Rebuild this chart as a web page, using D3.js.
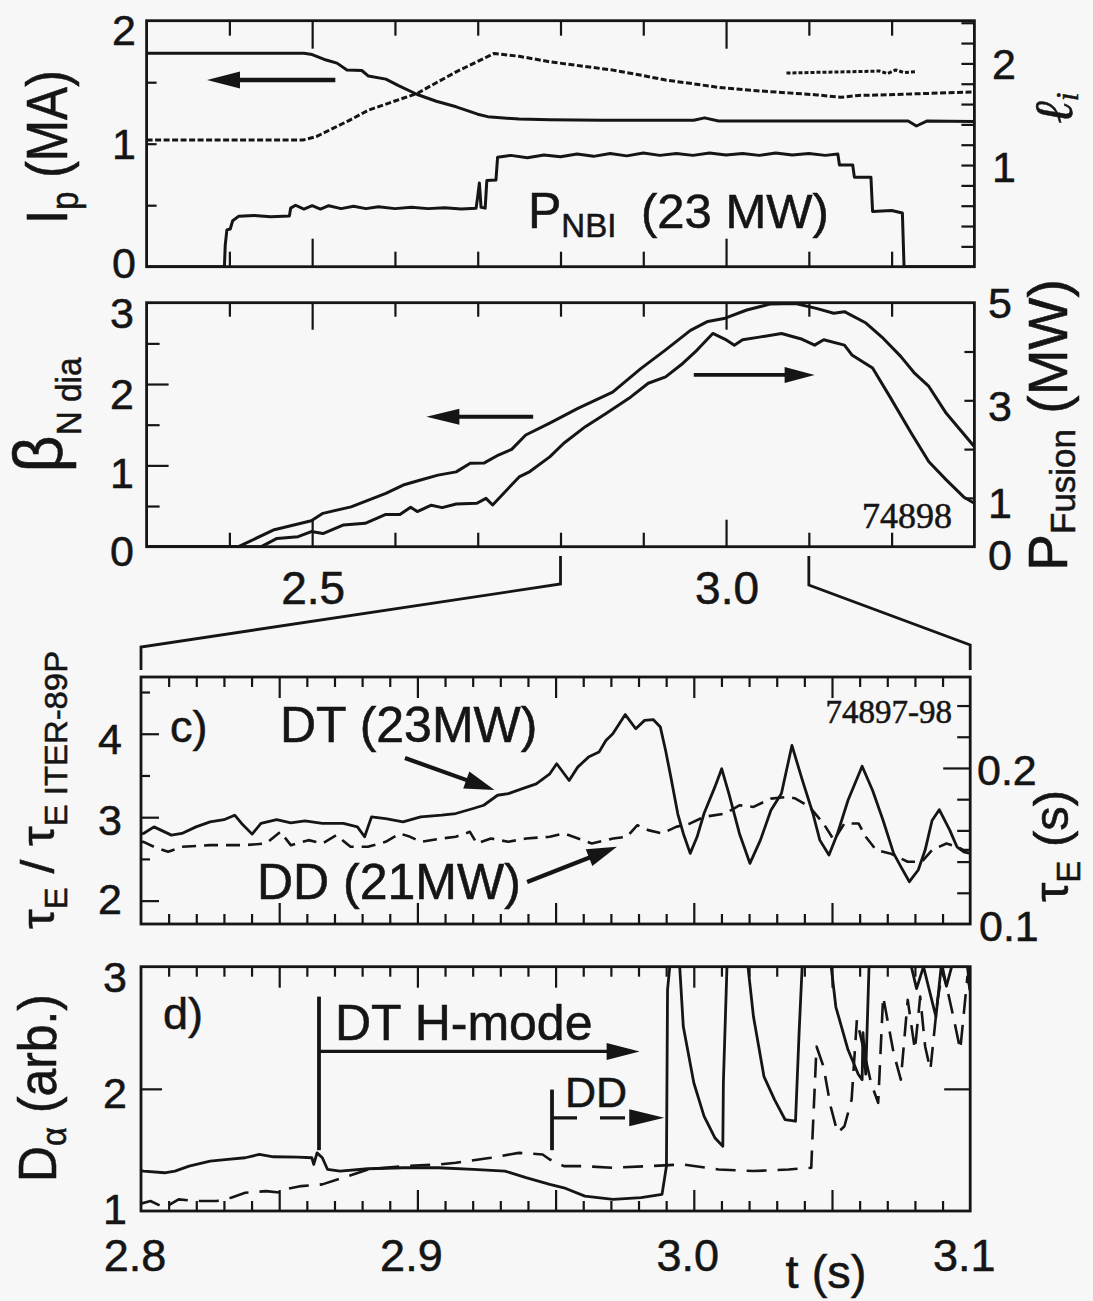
<!DOCTYPE html>
<html><head><meta charset="utf-8">
<script src="https://cdn.jsdelivr.net/npm/d3@7"></script>
<style>
html,body{margin:0;padding:0;background:#f7f7f7;}
svg{display:block;font-family:"Liberation Sans",Arial,Helvetica,sans-serif;}
svg text{stroke:#151515;stroke-width:0.55px;}
</style></head>
<body><div id="chart"></div>
<script>
// ---------------- DATA ----------------
// Panel a: plasma current Ip (MA), internal inductance li, neutral beam power (MW)
const ipCurve = [[2.300,1.735],[2.490,1.735],[2.500,1.725],[2.517,1.68],[2.530,1.655],[2.542,1.60],[2.560,1.595],[2.568,1.55],[2.589,1.525],[2.605,1.47],[2.627,1.40],[2.650,1.345],[2.674,1.30],[2.700,1.24],[2.712,1.22],[2.750,1.20],[2.787,1.195],[2.850,1.19],[2.961,1.19],[2.974,1.21],[2.991,1.185],[3.220,1.185],[3.230,1.144],[3.243,1.185],[3.300,1.18]];
const liCurve = [[2.300,1.246],[2.489,1.246],[2.505,1.28],[2.525,1.36],[2.545,1.44],[2.568,1.54],[2.600,1.63],[2.627,1.705],[2.650,1.81],[2.674,1.917],[2.700,2.02],[2.720,2.098],[2.750,2.07],[2.787,2.016],[2.825,1.975],[2.863,1.934],[2.900,1.88],[2.927,1.836],[2.960,1.80],[2.991,1.764],[3.030,1.735],[3.075,1.71],[3.110,1.69],[3.139,1.666],[3.160,1.685],[3.181,1.688],[3.245,1.705],[3.300,1.72]];
const li2Curve = [[3.073,1.905],[3.110,1.912],[3.150,1.918],[3.185,1.925],[3.195,1.90],[3.205,1.935],[3.215,1.91],[3.230,1.92]];
const pnbiCurve = [[2.300,0],[2.394,0],[2.395,4.5],[2.397,7.6],[2.401,7.8],[2.404,9.5],[2.411,10.4],[2.430,10.6],[2.450,10.3],[2.4725,10.5],[2.474,12.1],[2.480,12.7],[2.490,11.9],[2.500,12.6],[2.510,11.9],[2.520,12.6],[2.535,12.0],[2.550,12.5],[2.565,12.0],[2.580,12.4],[2.600,12.0],[2.620,12.3],[2.640,12.0],[2.660,12.2],[2.680,11.9],[2.698,12.1],[2.700,14.5],[2.702,17.3],[2.704,12.3],[2.709,12.1],[2.711,17.8],[2.722,17.9],[2.724,22.6],[2.740,23.0],[2.760,22.5],[2.780,23.1],[2.800,22.7],[2.820,23.3],[2.840,22.8],[2.860,23.4],[2.880,22.9],[2.900,23.5],[2.920,23.0],[2.940,23.4],[2.960,23.0],[2.980,23.5],[3.000,23.1],[3.020,23.4],[3.040,23.0],[3.060,23.5],[3.080,23.1],[3.100,23.4],[3.120,23.0],[3.135,23.3],[3.137,21.0],[3.153,21.0],[3.155,18.5],[3.175,18.5],[3.177,11.4],[3.200,11.6],[3.213,11.1],[3.215,0],[3.300,0]];
const pnbiMax = 23;

// Panel b: normalized beta (left) and fusion power in MW (right)
const betaCurve = [[2.300,0],[2.411,0],[2.453,0.205],[2.499,0.32],[2.513,0.41],[2.547,0.49],[2.589,0.656],[2.610,0.758],[2.631,0.82],[2.652,0.88],[2.674,0.92],[2.691,1.025],[2.708,1.03],[2.725,1.127],[2.741,1.197],[2.758,1.373],[2.787,1.52],[2.821,1.70],[2.863,1.90],[2.897,2.19],[2.927,2.42],[2.957,2.66],[2.978,2.77],[2.999,2.81],[3.025,2.91],[3.054,2.985],[3.084,2.99],[3.109,2.93],[3.130,2.87],[3.143,2.89],[3.169,2.75],[3.190,2.56],[3.211,2.34],[3.228,2.13],[3.245,1.97],[3.266,1.64],[3.300,1.23]];
const pfusCurve = [[2.300,0],[2.4386,0],[2.4575,0.17],[2.483,0.205],[2.499,0.31],[2.513,0.27],[2.538,0.445],[2.564,0.48],[2.589,0.66],[2.606,0.66],[2.619,0.81],[2.627,0.72],[2.644,0.85],[2.657,0.80],[2.674,0.875],[2.699,0.89],[2.710,0.99],[2.718,0.855],[2.750,1.43],[2.763,1.54],[2.787,1.84],[2.804,2.12],[2.830,2.46],[2.855,2.73],[2.885,3.07],[2.906,3.35],[2.927,3.48],[2.948,3.76],[2.965,4.03],[2.984,4.37],[2.999,4.25],[3.010,4.13],[3.020,4.24],[3.042,4.30],[3.067,4.37],[3.092,4.25],[3.107,4.13],[3.118,4.24],[3.143,4.13],[3.152,3.93],[3.177,3.66],[3.198,3.07],[3.224,2.32],[3.245,1.74],[3.266,1.37],[3.287,1.02],[3.300,0.89]];

// Panel c: tauE / tauE ITER-89P
const tauDT = [[2.8,2.80],[2.8009,2.805],[2.8047,2.884],[2.811,2.785],[2.8148,2.805],[2.8199,2.884],[2.825,2.944],[2.830,2.97],[2.8339,3.024],[2.8364,2.925],[2.8402,2.797],[2.8434,2.925],[2.8491,2.97],[2.8542,2.932],[2.8593,2.956],[2.8656,2.925],[2.8732,2.925],[2.8783,2.884],[2.8809,2.765],[2.8834,3.004],[2.8885,2.984],[2.8948,2.944],[2.9012,3.004],[2.9088,3.024],[2.9139,3.044],[2.9202,3.104],[2.924,3.143],[2.929,3.263],[2.9329,3.283],[2.938,3.343],[2.943,3.40],[2.9479,3.52],[2.9504,3.64],[2.9549,3.44],[2.958,3.60],[2.9619,3.72],[2.9657,3.78],[2.9682,3.92],[2.9707,4.00],[2.9752,4.23],[2.979,4.06],[2.9822,4.16],[2.9853,4.17],[2.9879,4.08],[2.9898,3.80],[2.9917,3.48],[2.9942,3.04],[2.9962,2.805],[2.9987,2.566],[3.0012,2.765],[3.0037,3.044],[3.0076,3.36],[3.0101,3.58],[3.0127,3.283],[3.0165,2.805],[3.0203,2.447],[3.0241,2.725],[3.0279,3.084],[3.0317,3.283],[3.0355,3.86],[3.0393,3.44],[3.0431,3.044],[3.0456,2.725],[3.0489,2.546],[3.052,2.805],[3.0558,3.203],[3.0609,3.61],[3.0647,3.32],[3.0685,2.96],[3.0723,2.566],[3.0749,2.407],[3.078,2.227],[3.0812,2.367],[3.0837,2.606],[3.0862,2.96],[3.0888,3.09],[3.0926,2.845],[3.0952,2.645],[3.0977,2.585],[3.1,2.566]];
const tauDD = [[2.8,2.70],[2.8009,2.705],[2.8047,2.645],[2.8098,2.585],[2.8148,2.645],[2.825,2.665],[2.8377,2.665],[2.8453,2.685],[2.8504,2.825],[2.8542,2.665],[2.8606,2.725],[2.8656,2.685],[2.8707,2.785],[2.8758,2.645],[2.8821,2.645],[2.8885,2.705],[2.8936,2.805],[2.8974,2.765],[2.9012,2.705],[2.9088,2.745],[2.9139,2.765],[2.919,2.825],[2.9215,2.685],[2.9266,2.745],[2.9329,2.705],[2.9393,2.745],[2.9479,2.765],[2.953,2.805],[2.9631,2.685],[2.9708,2.745],[2.9758,2.765],[2.9796,2.904],[2.9835,2.845],[2.9885,2.805],[2.9936,2.884],[2.9987,2.925],[3.0037,3.004],[3.0114,3.044],[3.0165,3.143],[3.0216,3.123],[3.0279,3.223],[3.0342,3.243],[3.0368,3.223],[3.0419,3.123],[3.0469,2.925],[3.0507,2.725],[3.0545,2.925],[3.0596,2.925],[3.0622,2.765],[3.066,2.606],[3.071,2.566],[3.0774,2.466],[3.0825,2.466],[3.0862,2.606],[3.0914,2.685],[3.0952,2.645],[3.0977,2.606],[3.1,2.606]];

// Panel d: D-alpha (arb.)
const daDT = [[2.8,1.33],[2.8009,1.327],[2.8085,1.313],[2.8123,1.327],[2.8174,1.367],[2.825,1.408],[2.8314,1.422],[2.8377,1.436],[2.8428,1.463],[2.8479,1.444],[2.8567,1.441],[2.8618,1.436],[2.8625,1.381],[2.8637,1.476],[2.8656,1.436],[2.8675,1.34],[2.872,1.327],[2.8821,1.346],[2.8948,1.354],[2.9075,1.354],[2.9202,1.34],[2.9317,1.327],[2.9393,1.273],[2.9479,1.218],[2.953,1.19],[2.9606,1.122],[2.9708,1.096],[2.9809,1.109],[2.9885,1.136],[2.9901,1.367],[2.9905,2.81],[2.9913,3.0],[2.9949,3.0],[2.9962,2.51],[3.0,2.05],[3.0037,1.776],[3.0076,1.60],[3.0105,1.53],[3.0107,2.05],[3.012,3.0],[3.0196,3.0],[3.0216,2.59],[3.0254,2.10],[3.0292,1.912],[3.033,1.749],[3.0368,1.735],[3.0381,2.46],[3.0392,3.0],[3.0497,3.0],[3.0514,2.67],[3.0558,2.32],[3.0595,2.12],[3.0609,2.075],[3.0612,2.46],[3.0622,2.12],[3.0634,3.0],[3.0787,3.0],[3.0806,2.82],[3.0831,3.0],[3.0876,2.59],[3.0895,3.0],[3.0914,2.84],[3.0933,3.0],[3.099,3.0],[3.1,2.80]];
const daDD = [[2.8,1.06],[2.8034,1.082],[2.8085,1.027],[2.8136,1.095],[2.8199,1.082],[2.8275,1.082],[2.8326,1.109],[2.8377,1.15],[2.8453,1.163],[2.8504,1.15],[2.8517,1.177],[2.858,1.204],[2.8656,1.218],[2.8732,1.273],[2.8821,1.34],[2.8948,1.367],[2.9075,1.381],[2.9139,1.395],[2.9266,1.436],[2.9367,1.476],[2.9453,1.463],[2.9479,1.422],[2.953,1.367],[2.9606,1.367],[2.9708,1.354],[2.9835,1.367],[2.9962,1.381],[3.0089,1.34],[3.0216,1.327],[3.0343,1.34],[3.0425,1.354],[3.0429,1.585],[3.0444,2.347],[3.0469,2.184],[3.0495,1.857],[3.052,1.64],[3.0545,1.694],[3.0571,1.912],[3.059,2.565],[3.0609,2.375],[3.0641,2.05],[3.0667,1.885],[3.0685,2.755],[3.0723,2.293],[3.0749,2.075],[3.0774,2.728],[3.08,2.32],[3.0819,2.755],[3.0837,2.347],[3.0856,2.157],[3.0882,2.728],[3.0901,2.98],[3.0939,2.59],[3.0964,2.32],[3.099,2.92],[3.1,2.8]];

// Ticks and tick labels
const abMajorTicks = [2.5, 3.0];
const abMinorTicks = [2.4, 2.6, 2.7, 2.8, 2.9, 3.1, 3.2];
const abTickLabels = ["2.5", "3.0"];
const cdMajorTicks = [2.85, 2.9, 2.95, 3.0, 3.05];
const cdMinorTicks = [2.81,2.82,2.83,2.84,2.86,2.87,2.88,2.89,2.91,2.92,2.93,2.94,2.96,2.97,2.98,2.99,3.01,3.02,3.03,3.04,3.06,3.07,3.08,3.09];
const cdTickLabels = ["2.8", "2.9", "3.0", "3.1"];
const ipTicks = [0.5, 1, 1.5];
const ipLabels = [0, 1, 2];
const liTicks = [0.2,0.4,0.6,0.8,1.0,1.2,1.4,1.6,1.8,2.0,2.2,2.4];
const liLabels = [1, 2];
const betaMajor = [1, 2], betaMinor = [0.5, 1.5, 2.5];
const betaLabels = [0, 1, 2, 3];
const pfTicks = [1, 2, 3, 4];
const pfLabels = [0, 1, 3, 5];
const tauMajor = [2, 3, 4], tauMinor = [2.5, 3.5, 4.5];
const tauLabels = [2, 3, 4];
const tauEMajor = [0.2], tauEMinor = [0.12, 0.14, 0.16, 0.18, 0.22, 0.24];
const tauELabels = ["0.1", "0.2"];
const daTicks = [2];
const daLabels = [1, 2, 3];

// ---------------- DRAWING ----------------
const INK = "#151515";
const svg = d3.select("#chart").append("svg").attr("width", 1093).attr("height", 1301);
svg.append("rect").attr("width", 1093).attr("height", 1301).attr("fill", "#f7f7f7").attr("stroke", "none");

const PA = {x0:146.6, x1:974.4, y0:20.7, y1:266.7};
const PB = {x0:146.6, x1:974.4, y0:302.7, y1:546.7};
const PC = {x0:141.0, x1:970.2, y0:677, y1:924};
const PD = {x0:141.0, x1:970.2, y0:966.7, y1:1211};

const xAB = d3.scaleLinear().domain([2.3, 3.3]).range([PA.x0, PA.x1]);
const xCD = d3.scaleLinear().domain([2.8, 3.1]).range([PC.x0, PC.x1]);
const yIp = d3.scaleLinear().domain([0, 2]).range([PA.y1, PA.y0]);
const yLi = d3.scaleLinear().domain([0, 2.42]).range([PA.y1, PA.y0]);
const yPnbi = d3.scaleLinear().domain([0, pnbiMax]).range([PA.y1, yIp(0.905)]);
const yBeta = d3.scaleLinear().domain([0, 3]).range([PB.y1, PB.y0]);
const yPf = d3.scaleLinear().domain([0, 5]).range([PB.y1, PB.y0]);
const yTau = d3.scaleLinear().domain([1.72, 4.68]).range([PC.y1, PC.y0]);
const yTauE = d3.scaleLinear().domain([0.1, 0.2583]).range([PC.y1, PC.y0]);
const yDa = d3.scaleLinear().domain([1, 3]).range([PD.y1, PD.y0]);

function styleAxis(g){
  g.select(".domain").remove();
  g.selectAll("text").remove();
  g.selectAll(".tick line").attr("stroke", INK).attr("stroke-width", 2.2);
}
function xTicks(scale, P, vals, len){
  const gt = svg.append("g").attr("transform", `translate(0,${P.y0})`)
    .call(d3.axisBottom(scale).tickValues(vals).tickSize(len).tickSizeOuter(0).tickFormat(""));
  styleAxis(gt);
  const gb = svg.append("g").attr("transform", `translate(0,${P.y1})`)
    .call(d3.axisTop(scale).tickValues(vals).tickSize(len).tickSizeOuter(0).tickFormat(""));
  styleAxis(gb);
}
function yTicks(scale, x, side, vals, len){
  const ax = side === "left" ? d3.axisRight : d3.axisLeft;
  const g = svg.append("g").attr("transform", `translate(${x},0)`)
    .call(ax(scale).tickValues(vals).tickSize(len).tickSizeOuter(0).tickFormat(""));
  styleAxis(g);
}
function frame(P){
  svg.append("rect").attr("x", P.x0).attr("y", P.y0).attr("width", P.x1 - P.x0).attr("height", P.y1 - P.y0)
    .attr("fill", "none").attr("stroke", INK).attr("stroke-width", 2.8);
}
let clipN = 0;
function clipFor(P){
  const id = "clip" + (clipN++);
  svg.append("clipPath").attr("id", id).append("rect")
    .attr("x", P.x0).attr("y", P.y0 - 1).attr("width", P.x1 - P.x0).attr("height", P.y1 - P.y0 + 2);
  return `url(#${id})`;
}
function curve(data, xs, ys, clip, opts = {}){
  const line = d3.line().x(d => xs(d[0])).y(d => ys(d[1]));
  svg.append("path").datum(data).attr("d", line).attr("fill", "none")
    .attr("stroke", INK).attr("stroke-width", opts.w || 2.8)
    .attr("stroke-linejoin", "round").attr("stroke-linecap", "butt")
    .attr("stroke-dasharray", opts.dash || null).attr("clip-path", clip);
}
function arrow(x1, y1, x2, y2, o = {}){
  const head = o.head || 30, half = o.half || 8, w = o.w || 3.5;
  const dx = x2 - x1, dy = y2 - y1, L = Math.hypot(dx, dy), ux = dx / L, uy = dy / L;
  const bx = x2 - ux * head, by = y2 - uy * head;
  svg.append("line").attr("x1", x1).attr("y1", y1).attr("x2", bx + ux * 2).attr("y2", by + uy * 2)
    .attr("stroke", INK).attr("stroke-width", w).attr("stroke-dasharray", o.dash || null);
  svg.append("polygon").attr("fill", INK)
    .attr("points", [[x2, y2], [bx - uy * half, by + ux * half], [bx + uy * half, by - ux * half]].map(p => p.join(",")).join(" "));
}
function label(x, y, s, size, anchor = "start", family = null){
  const t = svg.append("text").attr("x", x).attr("y", y).attr("font-size", size)
    .attr("text-anchor", anchor).attr("fill", INK).text(s);
  if (family) t.attr("font-family", family);
  return t;
}
function rich(parent, parts, anchor = "start"){
  const t = parent.append("text").attr("text-anchor", anchor).attr("fill", INK);
  let cur = 0;
  parts.forEach(([s, fs, off]) => {
    t.append("tspan").attr("font-size", fs).attr("dy", (off || 0) - cur).text(s);
    cur = off || 0;
  });
  return t;
}
function rotLabel(bx, cy, parts, sx = 1){
  const g = svg.append("g").attr("transform", `translate(${bx},${cy}) rotate(-90) scale(${sx},1)`);
  rich(g, parts, "middle");
  return g;
}
const TL = 43;
function yLabels(vals, scale, x, anchor, offs, fmt = d => String(d)){
  vals.forEach((v, i) => label(x, scale(v) + offs[i] + 15.5, fmt(v), TL, anchor));
}

// ================= Panel a =================
frame(PA);
xTicks(xAB, PA, abMinorTicks, 15);
xTicks(xAB, PA, abMajorTicks, 28);
yTicks(yIp, PA.x0, "left", ipTicks, 10);
yTicks(yLi, PA.x1, "right", liTicks, 13);
const clipA = clipFor(PA);
curve(ipCurve, xAB, yIp, clipA, {w: 3});
curve(liCurve, xAB, yLi, clipA, {w: 3, dash: "6,2.5"});
curve(li2Curve, xAB, yLi, clipA, {w: 3, dash: "4,2"});
curve(pnbiCurve, xAB, yPnbi, clipA, {w: 3});
arrow(xAB(2.528), yIp(1.518), xAB(2.373), yIp(1.518), {head: 33, half: 8.5, w: 4.5});
yLabels(ipLabels, yIp, 136, "end", [-4, 0, 9]);
yLabels(liLabels, yLi, 992, "start", [1, 0]);
{
  const t = svg.append("text").attr("x", 528).attr("y", 228).attr("fill", INK);
  t.append("tspan").attr("font-size", 50).text("P");
  t.append("tspan").attr("font-size", 33).attr("dy", 9).text("NBI");
  t.append("tspan").attr("font-size", 49).attr("dy", -9).attr("x", 641).text("(23 MW)");
}
rotLabel(67, 147, [["I", 57, 0], ["p", 38, 11], [" (MA)", 57, 0]], 0.87);
{
  const g = svg.append("g").attr("transform", "translate(1072,108) rotate(-90)");
  const t = g.append("text").attr("text-anchor", "middle").attr("fill", INK)
    .attr("font-family", "'Liberation Serif','DejaVu Serif',serif").attr("font-style", "italic");
  t.append("tspan").attr("font-size", 54).text("ℓ");
  t.append("tspan").attr("font-size", 32).attr("dy", 6).text("i");
}

// ================= Panel b =================
frame(PB);
xTicks(xAB, PB, abMinorTicks, 14);
xTicks(xAB, PB, abMajorTicks, 27);
yTicks(yBeta, PB.x0, "left", betaMajor, 22);
yTicks(yBeta, PB.x0, "left", betaMinor, 13);
yTicks(yPf, PB.x1, "right", pfTicks, 10);
const clipB = clipFor(PB);
curve(betaCurve, xAB, yBeta, clipB, {w: 3});
curve(pfusCurve, xAB, yPf, clipB, {w: 3});
arrow(xAB(2.767), yBeta(1.598), xAB(2.638), yBeta(1.598), {head: 33, half: 8, w: 3.8});
arrow(xAB(2.961), yPf(3.52), xAB(3.107), yPf(3.52), {head: 30, half: 8, w: 3.8});
label(952, 528, "74898", 36, "end", "'Liberation Serif','Times New Roman',serif");
yLabels(betaLabels, yBeta, 134, "end", [4, 7, 9, 10]);
yLabels(pfLabels, yPf, 988, "start", [8, 5, 5, 0]);
abMajorTicks.forEach((v, i) => label(xAB(v) + 1, 604, abTickLabels[i], 46, "middle"));
rotLabel(62, 415, [["β", 68, 0], ["N dia", 35, 19]], 0.95);
rotLabel(1067, 425, [["P", 55, 0], ["Fusion", 35, 8], [" (MW)", 55, 0]], 1.0);

{
  const lc = d3.line();
  svg.append("path").attr("d", lc([[xAB(2.8), 556], [xAB(2.8), 584], [xCD(2.8), 647], [xCD(2.8), 670]]))
    .attr("fill", "none").attr("stroke", INK).attr("stroke-width", 2.8);
  svg.append("path").attr("d", lc([[xAB(3.1), 556], [xAB(3.1), 585], [xCD(3.1), 645], [xCD(3.1), 670]]))
    .attr("fill", "none").attr("stroke", INK).attr("stroke-width", 2.8);
}

// ================= Panel c =================
frame(PC);
xTicks(xCD, PC, cdMinorTicks, 10);
xTicks(xCD, PC, cdMajorTicks, 21);
yTicks(yTau, PC.x0, "left", tauMajor, 18);
yTicks(yTau, PC.x0, "left", tauMinor, 9);
yTicks(yTauE, PC.x1, "right", tauEMajor, 27);
yTicks(yTauE, PC.x1, "right", tauEMinor, 13);
const clipC = clipFor(PC);
curve(tauDD, xCD, yTau, clipC, {w: 2.6, dash: "14,8"});
curve(tauDT, xCD, yTau, clipC, {w: 2.8});
label(170, 742, "c)", 45);
label(280, 742, "DT (23MW)", 50);
label(257, 899, "DD (21MW)", 50);
label(952, 723, "74897-98", 33, "end", "'Liberation Serif','Times New Roman',serif");
arrow(xCD(2.8955), yTau(3.709), xCD(2.9279), yTau(3.325), {head: 30, half: 9, w: 4.2});
arrow(xCD(2.9397), yTau(2.223), xCD(2.9722), yTau(2.646), {head: 30, half: 9, w: 4.2});
yLabels(tauLabels, yTau, 122, "end", [-2, 2, 5]);
label(977, yTauE(0.2) + 2 + 15.5, tauELabels[1], TL, "start");
label(979, yTauE(0.1) + 1 + 15.5, tauELabels[0], TL, "start");
rotLabel(54, 790, [["τ", 47, 0], ["E", 31, 13], [" / τ", 47, 0], ["E ITER-89P", 31, 13]], 1.06);
rotLabel(1068, 846, [["τ", 49, 0], ["E", 33, 12], [" (s)", 49, 0]], 1.0);

// ================= Panel d =================
frame(PD);
xTicks(xCD, PD, cdMinorTicks, 10);
xTicks(xCD, PD, cdMajorTicks, 21);
yTicks(yDa, PD.x0, "left", daTicks, 21);
yTicks(yDa, PD.x1, "right", daTicks, 26);
const clipD = clipFor(PD);
curve(daDD, xCD, yDa, clipD, {w: 2.6, dash: "20,11"});
curve(daDT, xCD, yDa, clipD, {w: 2.8});
label(163, 1029, "d)", 45);
svg.append("line").attr("x1", xCD(2.8644)).attr("x2", xCD(2.8644)).attr("y1", yDa(2.755)).attr("y2", yDa(1.498))
  .attr("stroke", INK).attr("stroke-width", 3.8);
arrow(xCD(2.8644), yDa(2.306), xCD(2.9804), yDa(2.306), {head: 33, half: 8.5, w: 3.2});
label(335, 1040, "DT H-mode", 50);
svg.append("line").attr("x1", xCD(2.9487)).attr("x2", xCD(2.9487)).attr("y1", yDa(1.994)).attr("y2", yDa(1.498))
  .attr("stroke", INK).attr("stroke-width", 3.8);
arrow(xCD(2.9487), yDa(1.763), xCD(2.9893), yDa(1.763), {head: 35, half: 8.5, w: 3.2, dash: "25,23"});
label(565, 1107, "DD", 43);
yLabels(daLabels, yDa, 127, "end", [-3, 4, 10]);
cdTickLabels.forEach((s, i) => label(xCD(+s) - 6, 1271, s, 45, "middle"));
label(826, 1288, "t (s)", 47, "middle");
rotLabel(56, 1088, [["D", 53, 0], ["α", 35, 10], [" (arb.)", 53, 0]], 0.94);
</script>
</body></html>
